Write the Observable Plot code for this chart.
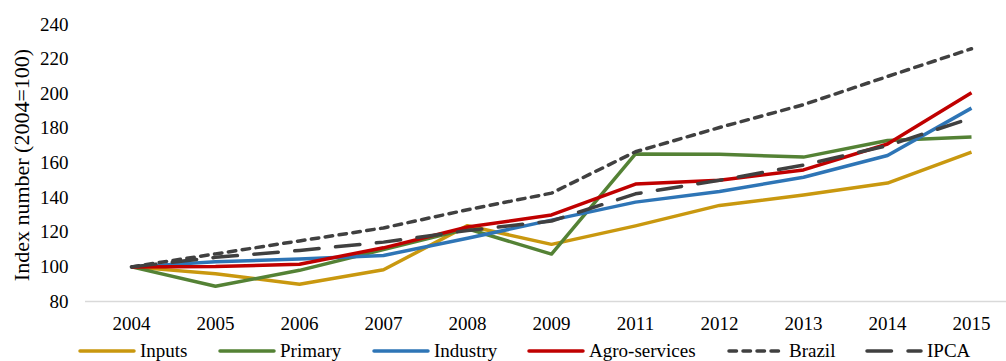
<!DOCTYPE html>
<html>
<head>
<meta charset="utf-8">
<script src="https://cdn.jsdelivr.net/npm/d3@7"></script>
<script src="https://cdn.jsdelivr.net/npm/@observablehq/plot@0.6"></script>
<style>
  html, body { margin: 0; padding: 0; background: #fff; }
  #chart { position: relative; width: 1006px; height: 361px; font-family: "Liberation Serif", "Times New Roman", serif; }
  #legend { position: absolute; left: 0; top: 339px; width: 1006px; height: 22px; }
  .item { position: absolute; top: 0; height: 24px; display: flex; align-items: center; font-size: 19px; color: #000; }
  .item svg { margin-right: 4px; }
</style>
</head>
<body>
<div id="chart"></div>
<script>
// Years on the horizontal axis (2010 is not in the series)
const years = ["2004", "2005", "2006", "2007", "2008", "2009", "2011", "2012", "2013", "2014", "2015"];

// Index numbers, 2004 = 100
const inputs       = [100, 96, 90, 98.3, 123.8, 113, 123.7, 135.5, 141.5, 148.4, 166.3];
const primary      = [100, 88.8, 98, 110, 122, 107.4, 165.2, 165, 163.4, 173, 175];
const industry     = [100, 103, 104.5, 106.6, 116.5, 127, 137.4, 143.5, 151.8, 164.3, 191.7];
const agroServices = [100, 100.2, 101.5, 111, 123, 130, 147.8, 150, 156, 171, 200.6];
const brazil       = [100, 107.5, 115, 122.5, 133, 142.6, 166.5, 180.5, 193.7, 210, 226];
const ipca         = [100, 105.5, 109.5, 114.3, 121, 126.5, 142.2, 150, 158.8, 170, 186];

const yTicks = [80, 100, 120, 140, 160, 180, 200, 220, 240];

const series = [
  {name: "Inputs",        values: inputs,       color: "#C9980F", dash: null},
  {name: "Primary",       values: primary,      color: "#548235", dash: null},
  {name: "Industry",      values: industry,     color: "#2E75B6", dash: null},
  {name: "Agro-services", values: agroServices, color: "#C00000", dash: null},
  {name: "Brazil",        values: brazil,       color: "#404040", dash: "7.5,6.5"},
  {name: "IPCA",          values: ipca,         color: "#404040", dash: "24.5,16.5"}
];

const rows = series.flatMap(s => s.values.map((v, i) => ({series: s.name, year: years[i], value: v})));

const lineMarks = series.map(s =>
  Plot.line(rows.filter(r => r.series === s.name), {
    x: "year",
    y: "value",
    stroke: s.color,
    strokeWidth: 3.5,
    strokeLinejoin: "round",
    strokeLinecap: s.dash ? "round" : "butt",
    strokeDasharray: s.dash
  })
);

const plot = Plot.plot({
  width: 1006,
  height: 338,
  marginTop: 24,
  marginBottom: 37,
  marginLeft: 85,
  marginRight: 0,
  style: {fontFamily: "Liberation Serif, Times New Roman, serif", fontSize: "19px", color: "#000", background: "#fff"},
  x: {type: "point", domain: years, range: [127, 975], padding: 0},
  y: {domain: [80, 240]},
  marks: [
    Plot.ruleY([80], {stroke: "#D9D9D9", strokeWidth: 1.5}),
    Plot.axisY({ticks: yTicks, tickSize: 0, tickPadding: 17, label: null}),
    Plot.axisX({tickSize: 0, tickPadding: 15, label: null}),
    Plot.text(["Index number (2004=100)"], {frameAnchor: "left", textAnchor: "middle", rotate: -90, dx: -64, dy: 2, fontSize: 22, fill: "#000"}),
    ...lineMarks
  ]
});

const chart = document.getElementById("chart");
chart.appendChild(plot);

// Legend row below the plot
const legend = document.createElement("div");
legend.id = "legend";
const legendLeft = [78, 218, 372, 527, 727, 865];
series.forEach((s, i) => {
  const item = document.createElement("div");
  item.className = "item";
  item.style.left = legendLeft[i] + "px";
  const dash = s.dash ? `stroke-dasharray="${s.dash}" stroke-linecap="round"` : `stroke-linecap="round"`;
  item.innerHTML =
    `<svg width="58" height="10"><line x1="2" y1="5" x2="56" y2="5" stroke="${s.color}" stroke-width="3.5" ${dash}/></svg>` +
    `<span>${s.name}</span>`;
  legend.appendChild(item);
});
chart.appendChild(legend);
</script>
</body>
</html>
